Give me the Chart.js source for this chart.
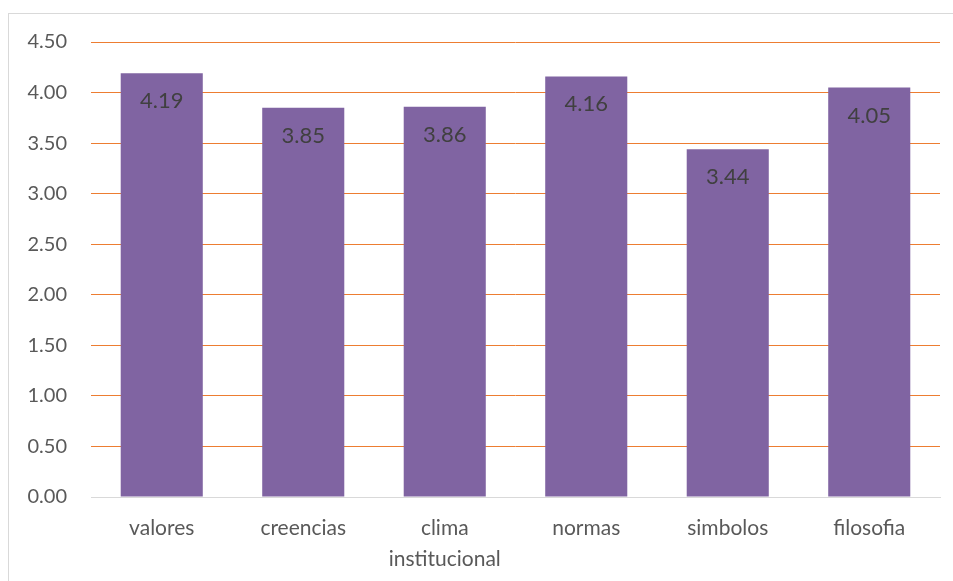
<!DOCTYPE html>
<html>
<head>
<meta charset="utf-8">
<script src="https://cdn.jsdelivr.net/npm/chart.js@4.4.0/dist/chart.umd.min.js"></script>
<style>
  body { margin: 0; background: #fff; }
  #frame { position: absolute; left: 8px; top: 13px; width: 960px; height: 580px; border: 1px solid #d9d9d9; }
  #wrap { position: absolute; left: 0; top: 0; width: 953px; height: 581px; }
</style>
</head>
<body>
<div id="frame"></div>
<div id="wrap"><canvas id="chart"></canvas></div>
<script>
// categories and averages
const categories = ['valores', 'creencias', ['clima', 'institucional'], 'normas', 'simbolos', 'filosofia'];
const scores = [4.19, 3.85, 3.86, 4.16, 3.44, 4.05];
const yTicks = [0, 0.5, 1, 1.5, 2, 2.5, 3, 3.5, 4, 4.5];

const fontFamily = 'Lato, "Open Sans", sans-serif';

// draw value labels just inside the top of each bar
const insideLabels = {
    id: 'insideLabels',
    afterDatasetsDraw(chart) {
        const ctx = chart.ctx;
        const meta = chart.getDatasetMeta(0);
        ctx.save();
        ctx.fillStyle = '#404040';
        ctx.font = '22px ' + fontFamily;
        ctx.textAlign = 'center';
        ctx.textBaseline = 'middle';
        meta.data.forEach((bar, i) => {
            ctx.fillText(scores[i].toFixed(2), bar.x, bar.y + 28);
        });
        ctx.restore();
    }
};

const ctx = document.getElementById('chart').getContext('2d');
new Chart(ctx, {
    type: 'bar',
    data: {
        labels: categories,
        datasets: [{
            data: scores,
            backgroundColor: '#8064A2',
            categoryPercentage: 0.58,
            barPercentage: 1
        }]
    },
    options: {
        responsive: true,
        maintainAspectRatio: false,
        animation: false,
        layout: { padding: { top: 42, right: 13, left: 0, bottom: 0 } },
        plugins: {
            legend: { display: false },
            tooltip: { enabled: false }
        },
        scales: {
            x: {
                grid: { display: false, drawTicks: false },
                border: { display: true, color: '#d9d9d9', width: 1 },
                ticks: { color: '#595959', font: { size: 21, family: fontFamily, lineHeight: 1.5 }, padding: 15, maxRotation: 0 },
                afterFit(scale) { scale.height = 84; }
            },
            y: {
                min: 0,
                max: 4.5,
                afterBuildTicks(scale) { scale.ticks = yTicks.map(v => ({ value: v })); },
                grid: {
                    drawTicks: false,
                    color: c => (c.tick && c.tick.value === 0) ? '#d9d9d9' : '#ED7D31',
                    lineWidth: 1
                },
                border: { display: false },
                ticks: {
                    color: '#595959',
                    font: { size: 20, family: fontFamily },
                    padding: 24,
                    callback: v => Number(v).toFixed(2)
                },
                afterFit(scale) { scale.width = 91; }
            }
        }
    },
    plugins: [insideLabels]
});
</script>
</body>
</html>
